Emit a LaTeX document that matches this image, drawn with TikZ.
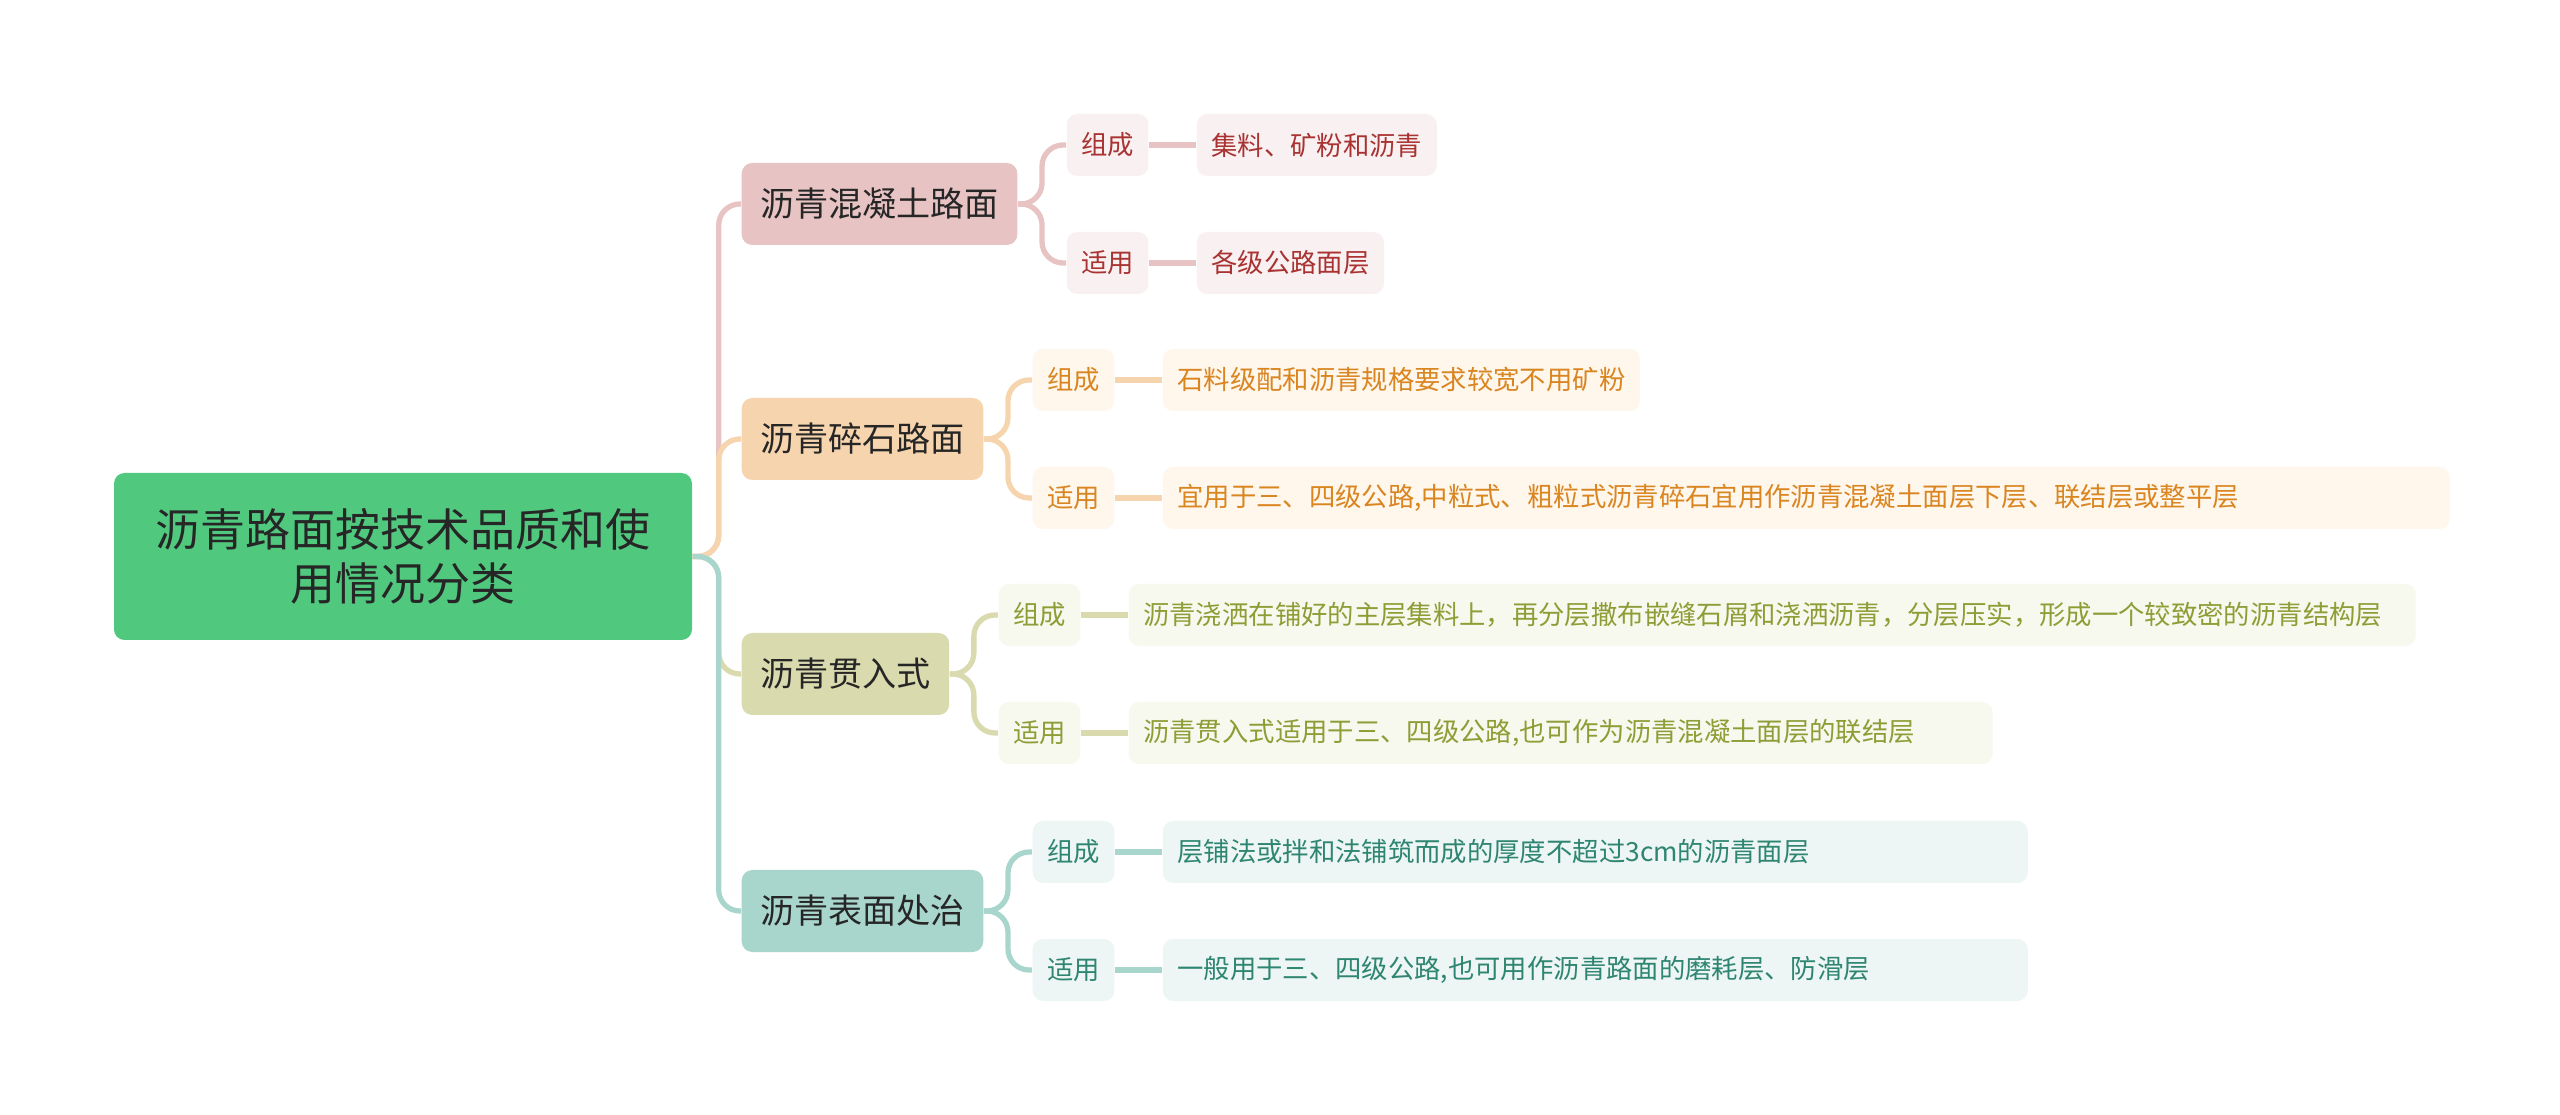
\documentclass[tikz,border=0pt]{standalone}
\usepackage{fontspec}
\setmainfont{Noto Sans CJK SC}
\usepackage{tikz}
\usetikzlibrary{positioning}
\definecolor{rootg}{RGB}{80,201,127}
\definecolor{pinkc}{RGB}{232,195,195}
\definecolor{pinkl}{RGB}{249,241,241}
\definecolor{pinkt}{RGB}{169,50,50}
\definecolor{peachc}{RGB}{246,213,174}
\definecolor{peachl}{RGB}{255,246,236}
\definecolor{peacht}{RGB}{217,133,32}
\definecolor{olivec}{RGB}{217,218,174}
\definecolor{olivel}{RGB}{247,248,238}
\definecolor{olivet}{RGB}{142,157,53}
\definecolor{tealc}{RGB}{169,214,204}
\definecolor{teall}{RGB}{237,246,244}
\definecolor{tealt}{RGB}{46,133,113}

\begin{document}
\begin{tikzpicture}[
  node distance=4.7mm,
  rootbox/.style={fill=rootg,rounded corners=3pt,minimum width=57.8mm,minimum height=16.7mm,align=center,font=\fontsize{12.8}{15.4}\selectfont,text=black!85},
  mainbox/.style={rounded corners=3pt,minimum height=8.2mm,inner xsep=1.85mm,anchor=west,font=\fontsize{9.7}{11}\selectfont,text=black!85},
  tagbox/.style={rounded corners=3pt,minimum height=6.2mm,inner xsep=1.45mm,font=\fontsize{7.5}{9}\selectfont},
  wide/.style={text width=#1,align=left},
  conn/.style={line width=1.5pt,rounded corners=6pt}]
\useasboundingbox[fill=white] (0,0) rectangle (25.6,-11.15);
\node[rootbox] (r) at (4.03,-5.565) {沥青路面按技术品质和使\\用情况分类};
% first level
\node[mainbox,fill=pinkc] (a) at (7.41,-2.04) {沥青混凝土路面};
\node[mainbox,fill=peachc] (b) at (7.41,-4.39) {沥青碎石路面};
\node[mainbox,fill=olivec] (c) at (7.41,-6.74) {沥青贯入式};
\node[mainbox,fill=tealc] (d) at (7.41,-9.11) {沥青表面处治};
% second level
\node[tagbox,fill=pinkl,text=pinkt,right=4.8mm of a,yshift=5.9mm] (a1) {组成};
\node[tagbox,fill=pinkl,text=pinkt,right=4.8mm of a,yshift=-5.9mm] (a2) {适用};
\node[tagbox,fill=pinkl,text=pinkt,right=of a1] (a1t) {集料、矿粉和沥青};
\node[tagbox,fill=pinkl,text=pinkt,right=of a2] (a2t) {各级公路面层};
\node[tagbox,fill=peachl,text=peacht,right=4.8mm of b,yshift=5.9mm] (b1) {组成};
\node[tagbox,fill=peachl,text=peacht,right=4.8mm of b,yshift=-5.9mm] (b2) {适用};
\node[tagbox,fill=peachl,text=peacht,right=of b1] (b1t) {石料级配和沥青规格要求较宽不用矿粉};
\node[tagbox,fill=peachl,text=peacht,right=of b2,wide=125.8mm] (b2t) {宜用于三、四级公路,中粒式、粗粒式沥青碎石宜用作沥青混凝土面层下层、联结层或整平层};
\node[tagbox,fill=olivel,text=olivet,right=4.8mm of c,yshift=5.9mm] (c1) {组成};
\node[tagbox,fill=olivel,text=olivet,right=4.8mm of c,yshift=-5.9mm] (c2) {适用};
\node[tagbox,fill=olivel,text=olivet,right=of c1,wide=125.8mm] (c1t) {沥青浇洒在铺好的主层集料上，再分层撒布嵌缝石屑和浇洒沥青，分层压实，形成一个较致密的沥青结构层};
\node[tagbox,fill=olivel,text=olivet,right=of c2,wide=83.5mm] (c2t) {沥青贯入式适用于三、四级公路,也可作为沥青混凝土面层的联结层};
\node[tagbox,fill=teall,text=tealt,right=4.8mm of d,yshift=5.9mm] (d1) {组成};
\node[tagbox,fill=teall,text=tealt,right=4.8mm of d,yshift=-5.9mm] (d2) {适用};
\node[tagbox,fill=teall,text=tealt,right=of d1,wide=83.6mm] (d1t) {层铺法或拌和法铺筑而成的厚度不超过3cm的沥青面层};
\node[tagbox,fill=teall,text=tealt,right=of d2,wide=83.6mm] (d2t) {一般用于三、四级公路,也可用作沥青路面的磨耗层、防滑层};
% connectors
\draw[conn,pinkc] (r.east) -- ++(0.26,0) |- (a.west);
\draw[conn,peachc] (r.east) -- ++(0.26,0) |- (b.west);
\draw[conn,olivec] (r.east) -- ++(0.26,0) |- (c.west);
\draw[conn,tealc] (r.east) -- ++(0.26,0) |- (d.west);
\draw[conn,pinkc] (a.east) -- ++(0.24,0) |- (a1.west); \draw[conn,pinkc] (a.east) -- ++(0.24,0) |- (a2.west);
\draw[conn,pinkc] (a1)--(a1t); \draw[conn,pinkc] (a2)--(a2t);
\draw[conn,peachc] (b.east) -- ++(0.24,0) |- (b1.west); \draw[conn,peachc] (b.east) -- ++(0.24,0) |- (b2.west);
\draw[conn,peachc] (b1)--(b1t); \draw[conn,peachc] (b2)--(b2t);
\draw[conn,olivec] (c.east) -- ++(0.24,0) |- (c1.west); \draw[conn,olivec] (c.east) -- ++(0.24,0) |- (c2.west);
\draw[conn,olivec] (c1)--(c1t); \draw[conn,olivec] (c2)--(c2t);
\draw[conn,tealc] (d.east) -- ++(0.24,0) |- (d1.west); \draw[conn,tealc] (d.east) -- ++(0.24,0) |- (d2.west);
\draw[conn,tealc] (d1)--(d1t); \draw[conn,tealc] (d2)--(d2t);
\end{tikzpicture}
\end{document}
